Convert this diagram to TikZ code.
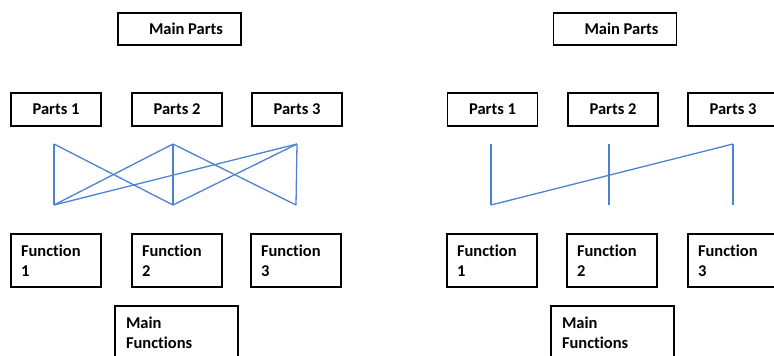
\documentclass[tikz,border=0pt]{standalone}
\usepackage{fontspec}
\setmainfont{Carlito}[Ligatures={NoCommon}]
\definecolor{linkblue}{HTML}{4F81D3}
\begin{document}
\begin{tikzpicture}[x=1pt,y=-1pt,
  box/.style={draw=black, line width=1.6pt, rectangle, inner sep=0pt,
    font=\fontsize{16.5}{20}\selectfont\bfseries},
  partbox/.style={box, minimum width=90pt, minimum height=33pt},
  funcbox/.style={box, minimum width=90pt, minimum height=53pt,
    text width=70pt, align=left},
  mainfunc/.style={box, minimum width=123pt, minimum height=53pt,
    text width=101pt, align=left},
  mainpart/.style={box, minimum width=123pt, minimum height=32pt},
  wire/.style={draw=linkblue, line width=1.3pt}]
\useasboundingbox (0,0) rectangle (774,356);
\clip (0,0) rectangle (774,356);

% ---------- left panel ----------
\node[mainpart] (mpL) at (179.5,29) {\hspace*{13pt}Main Parts};
\node[partbox] (pL1) at (56,109.5) {Parts 1};
\node[partbox] (pL2) at (177,109.5) {Parts 2};
\node[partbox] (pL3) at (297,109.5) {Parts 3};
\node[funcbox] (fL1) at (56,260.5) {Function\\1};
\node[funcbox] (fL2) at (177,260.5) {Function\\2};
\node[funcbox] (fL3) at (296,260.5) {Function\\3};
\node[mainfunc] (mfL) at (176.5,332.5) {Main\\Functions};

\coordinate (tL1) at (54,144);
\coordinate (tL2) at (173,144);
\coordinate (tL3) at (297,144);
\coordinate (bL1) at (54,205);
\coordinate (bL2) at (173,205);
\coordinate (bL3) at (296,205);
\draw[wire] (tL1) -- (bL1);
\draw[wire] (tL1) -- (bL2);
\draw[wire] (tL2) -- (bL1);
\draw[wire] (tL2) -- (bL2);
\draw[wire] (tL2) -- (bL3);
\draw[wire] (tL3) -- (bL2);
\draw[wire] (tL3) -- (bL1);
\draw[wire] (tL3) -- (bL3);

% ---------- right panel ----------
\node[mainpart] (mpR) at (615,29) {\hspace*{13pt}Main Parts};
\node[partbox] (pR1) at (492.5,109.5) {Parts 1};
\node[partbox] (pR2) at (613,109.5) {Parts 2};
\node[partbox] (pR3) at (733,109.5) {Parts 3};
\node[funcbox] (fR1) at (492,260.5) {Function\\1};
\node[funcbox] (fR2) at (612,260.5) {Function\\2};
\node[funcbox] (fR3) at (733,260.5) {Function\\3};
\node[mainfunc] (mfR) at (612.5,332.5) {Main\\Functions};

\coordinate (tR1) at (491,144);
\coordinate (tR2) at (609,144);
\coordinate (tR3) at (733,144);
\coordinate (bR1) at (491,205);
\coordinate (bR2) at (609,205);
\coordinate (bR3) at (733,205);
\draw[wire] (tR1) -- (bR1);
\draw[wire] (tR2) -- (bR2);
\draw[wire] (tR3) -- (bR3);
\draw[wire] (bR1) -- (tR3);
\end{tikzpicture}
\end{document}
